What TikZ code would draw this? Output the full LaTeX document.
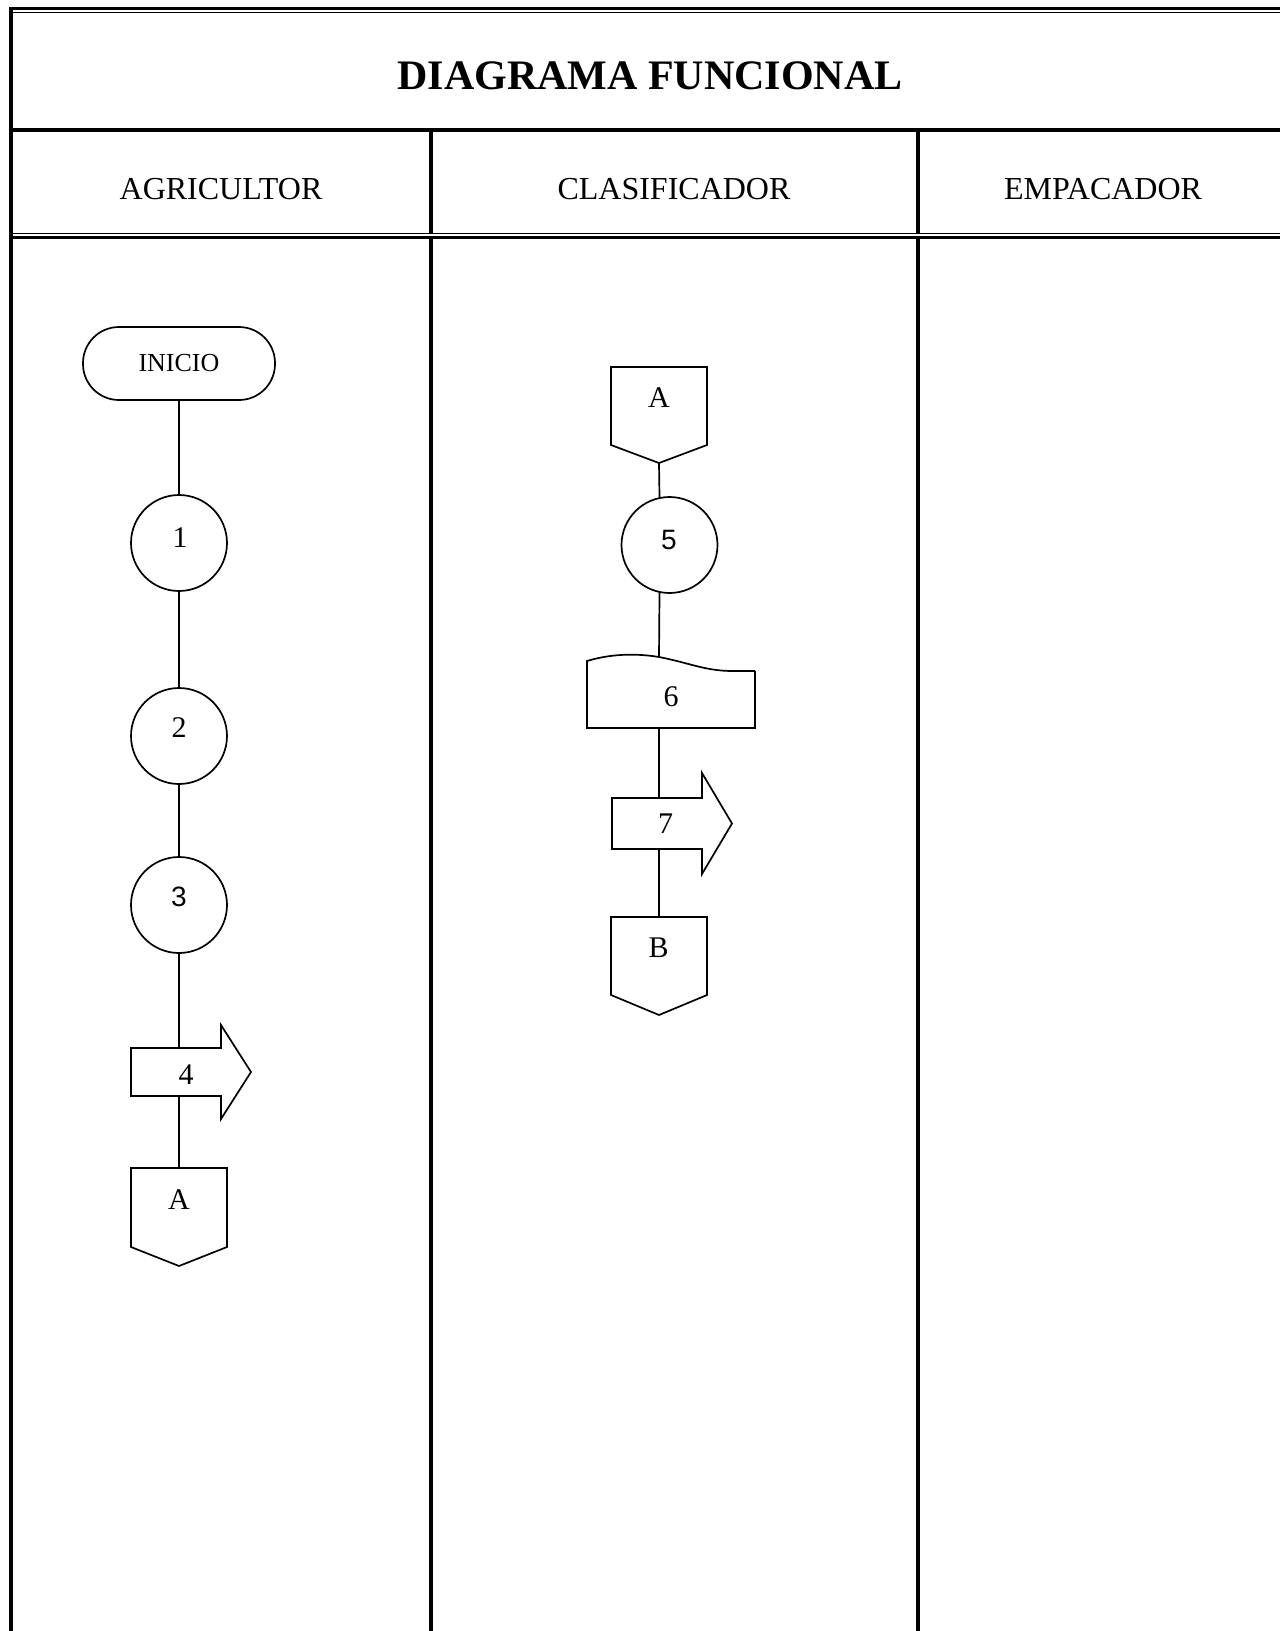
\documentclass[tikz,border=0pt]{standalone}
\usepackage{fontspec}
\setmainfont{Liberation Serif}
\newfontfamily\arialfont{Liberation Sans}
\begin{document}
\begin{tikzpicture}[x=1pt,y=-1pt,
  shp/.style={draw, line width=1.7pt, outer sep=0pt, inner sep=0pt},
  body/.style={draw=none, outer sep=0pt, inner sep=0pt},
  conn/.style={draw, line width=1.7pt},
  lbl/.style={inner sep=0pt, font=\fontsize{30}{36}\selectfont},
  albl/.style={inner sep=0pt, font=\arialfont\fontsize{28}{33}\selectfont},
  hdr/.style={inner sep=0pt, anchor=base, font=\fontsize{32}{38}\selectfont},
  frame/.style={line cap=butt}]
\useasboundingbox (0,0) rectangle (1280,1631);
\fill[white] (0,0) rectangle (1280,1631);

% frame lines
\draw[frame, line width=3pt] (9.5,8.7) -- (1280,8.7);
\draw[frame, line width=1.4pt] (13,12.4) -- (1280,12.4);
\draw[frame, line width=4pt] (11.3,7.3) -- (11.3,1631);
\draw[frame, line width=4.2pt] (11.3,130.3) -- (1280,130.3);
\draw[frame, line width=1.8pt] (11.3,233.5) -- (1280,233.5);
\draw[frame, line width=2.9pt] (11.3,237.3) -- (1280,237.3);
\draw[frame, line width=4pt] (431,130.3) -- (431,233.5);
\draw[frame, line width=4pt] (431,237.3) -- (431,1631);
\draw[frame, line width=4pt] (917.7,130.3) -- (917.7,233.5);
\draw[frame, line width=4pt] (917.7,237.3) -- (917.7,1631);

% titles
\node[inner sep=0pt, anchor=base, font=\fontsize{42}{50}\selectfont\bfseries] (title) at (650,89) {DIAGRAMA FUNCIONAL};
\node[hdr] (h1) at (221,199) {AGRICULTOR};
\node[hdr] (h2) at (674,199) {CLASIFICADOR};
\node[hdr] (h3) at (1103,199) {EMPACADOR};

% column 1
\node[shp, rounded corners=36pt, minimum width=192, minimum height=73, font=\fontsize{26}{31}\selectfont] (inicio) at (179,363.5) {INICIO};
\node[shp, circle, minimum size=96] (c1) at (179,543) {};
\node[shp, circle, minimum size=96] (c2) at (179,736) {};
\node[shp, circle, minimum size=96] (c3) at (179,905) {};
\node[body, minimum width=90, minimum height=48] (a4) at (176,1072) {};
\draw[shp] (a4.south west) -- (a4.north west) -- (a4.north east) -- ++(0,-23) -- ++(30,47) -- ++(-30,47) -- ++(0,-23) -- cycle;
\node[body, minimum width=96, minimum height=79] (A1) at (179,1207.5) {};
\draw[shp] (A1.south west) -- (A1.north west) -- (A1.north east) -- (A1.south east) -- ++(-48,19) coordinate (A1tip) -- cycle;

\node[lbl] (t1) at (180,538) {1};
\node[lbl] (t2) at (179,728) {2};
\node[albl] (t3) at (179,897) {3};
\node[lbl] (t4) at (186,1075) {4};
\node[lbl] (tA1) at (179,1200) {A};

\draw[conn] (inicio) -- (c1);
\draw[conn] (c1) -- (c2);
\draw[conn] (c2) -- (c3);
\draw[conn] (c3.south) -- (c3.south |- a4.north);
\draw[conn] (c3.south |- a4.south) -- (A1.north);

% column 2
\node[body, minimum width=96, minimum height=78] (A2) at (659,406) {};
\draw[shp] (A2.south west) -- (A2.north west) -- (A2.north east) -- (A2.south east) -- ++(-48,18) coordinate (A2tip) -- cycle;
\node[shp, circle, minimum size=96] (c5) at (669.5,545) {};
\node[body, minimum width=168, minimum height=57] (d6) at (671,699.5) {};
\draw[shp] (d6.north east) -- (d6.south east) -- (d6.south west) -- (d6.south west |- 0,661)
  .. controls (610,654) and (635,653) .. (659,657) coordinate (d6top)
  .. controls (690,663) and (705,671) .. (733,671) -- (d6.north east);
\node[body, minimum width=90, minimum height=51] (a7) at (657,823.5) {};
\draw[shp] (a7.south west) -- (a7.north west) -- (a7.north east) -- ++(0,-25) -- ++(30,50.5) -- ++(-30,50.5) -- ++(0,-25) -- cycle;
\node[body, minimum width=96, minimum height=78] (B) at (659,956) {};
\draw[shp] (B.south west) -- (B.north west) -- (B.north east) -- (B.south east) -- ++(-48,20) coordinate (Btip) -- cycle;

\node[lbl] (tA2) at (659,398) {A};
\node[albl] (t5) at (669,539.5) {5};
\node[lbl] (t6) at (671,697) {6};
\node[lbl] (t7) at (665.5,823.5) {7};
\node[lbl] (tB) at (658.5,948) {B};

\draw[conn] (A2tip) -- (c5.102.6);
\draw[conn] (c5.-102.6) -- (d6top);
\draw[conn] (d6top |- d6.south) -- (d6top |- a7.north);
\draw[conn] (d6top |- a7.south) -- (B.north);
\end{tikzpicture}
\end{document}
